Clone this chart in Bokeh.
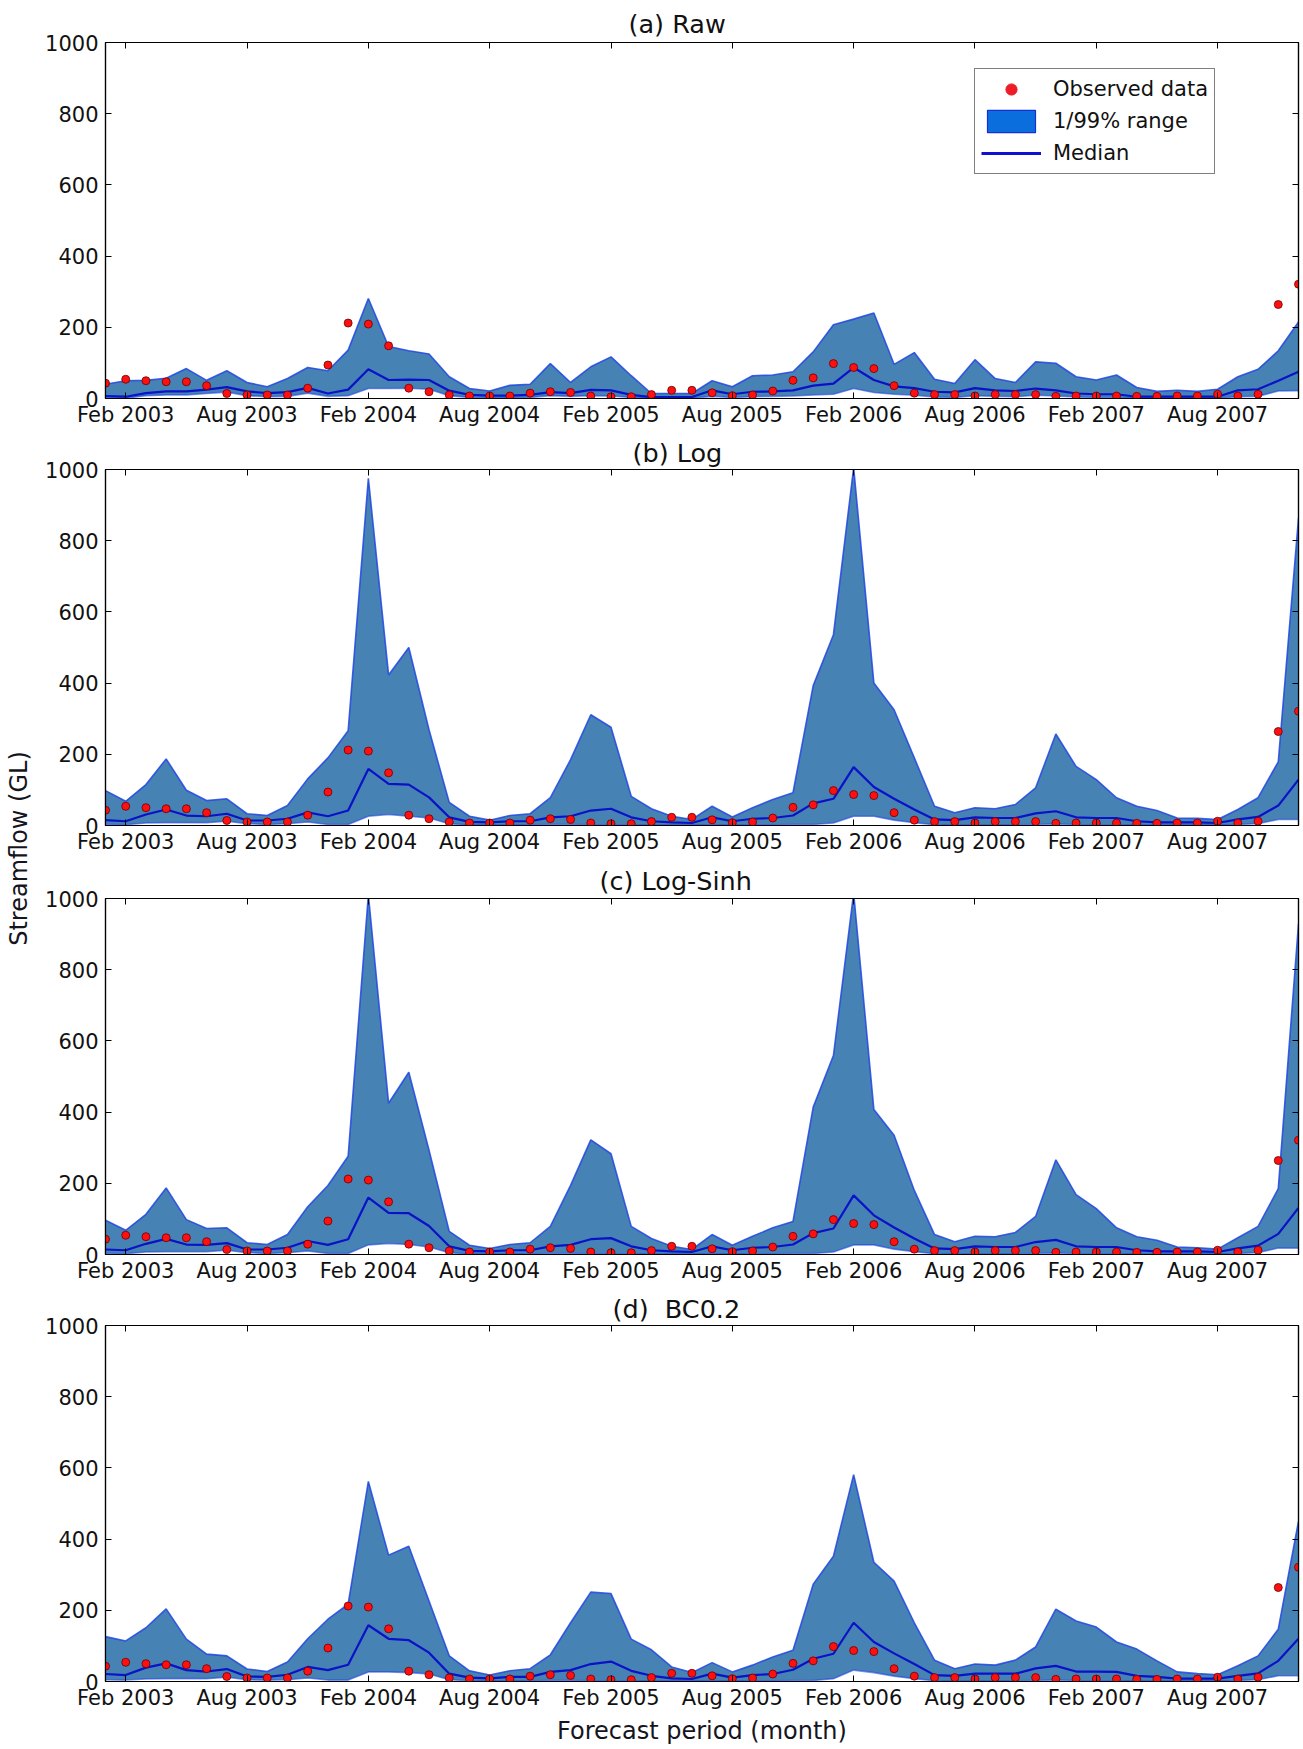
import numpy as np
from bokeh.plotting import figure
from bokeh.models import (Range1d, LinearAxis, FixedTicker, Legend, LegendItem,
                          ColumnDataSource, Label)
from bokeh.layouts import row, column
from bokeh.embed import file_html
from bokeh.resources import INLINE

# ---------------- data ----------------
# month index 0 = Jan 2003 ... 59 = Dec 2007
months = list(range(60))
tick_months = [1, 7, 13, 19, 25, 31, 37, 43, 49, 55]
tick_labels = ["Feb 2003", "Aug 2003", "Feb 2004", "Aug 2004", "Feb 2005",
               "Aug 2005", "Feb 2006", "Aug 2006", "Feb 2007", "Aug 2007"]
y_ticks = [0, 200, 400, 600, 800, 1000]

observed = [43, 54, 50, 47, 47, 36, 14, 10, 10, 10, 29, 94, 212, 209, 148, 29, 19, 10, 7, 7,
            7, 15, 19, 17, 7, 5, 5, 11, 23, 23, 16, 8, 10, 21, 51, 58, 98, 87, 84, 36,
            15, 11, 11, 7, 11, 11, 11, 6, 7, 7, 7, 6, 6, 7, 7, 12, 7, 12, 264, 321]

raw_upper = [40, 50, 51, 57, 84, 51, 78, 45, 33, 56, 87, 78, 136, 281, 146, 134, 125, 61, 28, 21,
             37, 40, 98, 45, 89, 117, 64, 14, 14, 14, 50, 33, 64, 66, 75, 131, 207, 223, 240, 96,
             129, 54, 42, 109, 56, 45, 103, 99, 61, 52, 66, 31, 20, 23, 20, 26, 61, 82, 134, 215]
raw_median = [7, 5, 15, 20, 20, 25, 32, 20, 15, 18, 30, 14, 25, 82, 52, 53, 52, 22, 10, 8,
              8, 10, 18, 15, 24, 23, 10, 4, 4, 4, 23, 12, 19, 20, 23, 36, 42, 87, 52, 34,
              29, 19, 17, 29, 23, 21, 28, 23, 14, 12, 12, 5, 5, 5, 5, 5, 23, 26, 50, 75]
raw_lower = [2, 1, 8, 10, 10, 14, 18, 8, 5, 6, 15, 6, 8, 28, 28, 29, 26, 8, 3, 2,
             2, 3, 8, 6, 8, 7, 3, 1, 1, 1, 6, 3, 5, 6, 7, 10, 12, 28, 17, 12,
             9, 4, 3, 8, 6, 5, 9, 7, 4, 3, 3, 1, 1, 1, 1, 1, 5, 6, 21, 22]

log_upper = [98, 68, 115, 187, 99, 70, 75, 33, 28, 56, 131, 190, 266, 975, 423, 500, 269, 65, 26, 15,
             28, 33, 78, 185, 311, 276, 82, 47, 26, 17, 54, 24, 50, 73, 92, 393, 536, 1005, 400, 325,
             190, 54, 36, 50, 47, 59, 106, 257, 166, 129, 78, 54, 42, 21, 20, 17, 45, 78, 179, 863]
log_median = [15, 12, 31, 45, 28, 26, 33, 14, 14, 19, 37, 26, 42, 159, 117, 115, 79, 23, 10, 9,
              12, 12, 23, 26, 42, 47, 23, 12, 9, 7, 23, 12, 19, 21, 28, 62, 75, 164, 108, 75,
              45, 17, 15, 23, 21, 21, 34, 40, 23, 21, 21, 12, 9, 9, 9, 7, 17, 24, 56, 129]
log_lower = [3, 2, 7, 8, 8, 8, 12, 5, 3, 5, 10, 3, 3, 26, 31, 26, 21, 5, 1, 1,
             1, 2, 3, 3, 2, 2, 2, 1, 1, 1, 2, 1, 2, 2, 3, 3, 7, 26, 26, 15,
             8, 2, 1, 1, 1, 2, 3, 4, 2, 2, 2, 1, 1, 1, 1, 1, 3, 5, 17, 17]

logsinh_upper = [96, 68, 113, 187, 98, 73, 75, 33, 28, 56, 134, 194, 276, 1010, 425, 512, 293, 65, 26, 17,
                 28, 33, 79, 194, 322, 283, 79, 45, 23, 14, 56, 26, 51, 75, 93, 414, 559, 1015, 407, 335,
                 180, 56, 36, 51, 50, 62, 107, 266, 168, 129, 75, 50, 40, 21, 19, 15, 47, 79, 185, 928]
logsinh_median = [14, 12, 30, 44, 28, 27, 32, 14, 14, 19, 38, 27, 43, 160, 117, 116, 80, 23, 10, 9,
                  12, 12, 23, 27, 43, 46, 23, 12, 9, 7, 23, 12, 19, 21, 28, 60, 73, 166, 110, 76,
                  45, 17, 15, 23, 21, 21, 35, 41, 23, 21, 21, 12, 9, 9, 9, 7, 17, 25, 58, 131]
logsinh_lower = [3, 2, 7, 8, 8, 8, 12, 5, 3, 5, 10, 3, 3, 27, 31, 28, 21, 5, 1, 1,
                 1, 2, 3, 3, 2, 2, 2, 1, 1, 1, 2, 1, 2, 2, 3, 3, 7, 27, 27, 15,
                 8, 2, 1, 1, 1, 2, 3, 4, 2, 2, 2, 1, 1, 1, 1, 1, 3, 5, 18, 18]

bc_upper = [126, 114, 151, 204, 119, 77, 72, 35, 28, 55, 120, 175, 217, 562, 355, 380, 226, 72, 30, 18,
            30, 36, 75, 165, 251, 247, 119, 89, 41, 25, 53, 27, 46, 69, 88, 273, 352, 581, 335, 282,
            165, 60, 36, 49, 46, 60, 97, 203, 170, 153, 111, 91, 58, 27, 22, 19, 44, 72, 147, 450]
bc_median = [21, 18, 39, 51, 32, 28, 35, 14, 13, 19, 41, 32, 47, 158, 120, 116, 81, 22, 11, 9,
             13, 13, 27, 32, 49, 56, 30, 16, 9, 7, 22, 11, 18, 21, 33, 64, 78, 165, 111, 79,
             49, 18, 16, 22, 22, 22, 37, 44, 28, 28, 27, 16, 13, 8, 8, 8, 16, 23, 58, 120]
bc_lower = [5, 4, 7, 8, 8, 8, 12, 5, 4, 5, 10, 4, 4, 27, 27, 25, 21, 5, 2, 1,
            1, 2, 3, 3, 2, 2, 2, 1, 1, 1, 2, 1, 2, 2, 3, 3, 8, 32, 25, 15,
            8, 2, 1, 1, 1, 2, 3, 4, 2, 2, 2, 1, 1, 1, 1, 1, 3, 5, 16, 16]

panel_titles = ["(a) Raw", "(b) Log", "(c) Log-Sinh", "(d)\u00a0 BC0.2"]
title_offsets = [523, 527, 494, 507]
title_standoffs = [7, 4, 5, 3]
legend_labels = ["Observed data", "1/99% range", "Median"]
y_label = "Streamflow (GL)"
x_label = "Forecast period (month)"

# ---------------- style / layout ----------------
FONT = "DejaVu Sans"
FILL = "#4682B4"
EDGE = "#2146E2"
MEDIAN = "#0A12C8"
TICK_FS = "21px"
TITLE_FS = "25.5px"
LABEL_FS = "24px"
FRAME_W = 1193
FRAME_H = 356
LEFT_B = 65
RIGHT_B = 5
FIG_W = LEFT_B + FRAME_W + RIGHT_B


def make_axis(ticks, labels=None, show=True, standoff=4):
    ax = LinearAxis(ticker=FixedTicker(ticks=ticks))
    if show:
        ax.major_label_overrides = {t: l for t, l in zip(ticks, labels)}
        ax.major_label_text_font = FONT
        ax.major_label_text_font_size = TICK_FS
        ax.major_label_text_color = "#111111"
        ax.major_label_standoff = standoff
    else:
        ax.major_label_overrides = {t: "" for t in ticks}
        ax.major_label_text_font_size = "1px"
        ax.major_label_standoff = 0
    ax.major_tick_in = 6
    ax.major_tick_out = 0
    ax.minor_tick_in = 0
    ax.minor_tick_out = 0
    ax.major_tick_line_color = "black"
    ax.axis_line_color = "black"
    ax.axis_line_width = 1.2
    return ax


def make_panel(i, lower, median, upper, top_b, bottom_b, legend=False, xlab=None):
    p = figure(width=FIG_W, height=top_b + FRAME_H + bottom_b,
               frame_width=FRAME_W, frame_height=FRAME_H,
               x_range=Range1d(0, 59), y_range=Range1d(0, 1000),
               toolbar_location=None, output_backend="svg",
               x_axis_location=None, y_axis_location=None,
               min_border_left=LEFT_B, min_border_right=RIGHT_B, min_border_top=top_b,
               min_border_bottom=bottom_b, title=panel_titles[i])
    p.grid.visible = False
    p.outline_line_color = "black"
    p.outline_line_width = 1.2
    p.background_fill_color = "white"
    p.border_fill_color = "white"

    p.title.align = "left"
    p.title.offset = title_offsets[i]
    p.title.text_font = FONT
    p.title.text_font_size = TITLE_FS
    p.title.text_font_style = "normal"
    p.title.text_color = "#111111"
    p.title.standoff = title_standoffs[i]

    xb = make_axis(tick_months, tick_labels, True, standoff=4)
    if xlab:
        xb.axis_label = xlab
        xb.axis_label_text_font = FONT
        xb.axis_label_text_font_size = LABEL_FS
        xb.axis_label_text_font_style = "normal"
        xb.axis_label_text_color = "#151520"
        xb.axis_label_standoff = 4
    p.add_layout(xb, "below")
    p.add_layout(make_axis(tick_months, show=False), "above")
    p.add_layout(make_axis(y_ticks, [str(v) for v in y_ticks], True, standoff=7), "left")
    p.add_layout(make_axis(y_ticks, show=False), "right")

    src = ColumnDataSource(dict(x=months, lo=lower, med=median, up=upper, obs=observed))
    p.varea(x="x", y1="lo", y2="up", source=src, fill_color=FILL, fill_alpha=1.0)
    p.line(x="x", y="up", source=src, line_color=EDGE, line_width=1.6, line_alpha=0.85)
    p.line(x="x", y="lo", source=src, line_color=EDGE, line_width=1.6, line_alpha=0.6)
    p.line(x="x", y="med", source=src, line_color=MEDIAN, line_width=2.2)
    p.scatter(x="x", y="obs", source=src, size=8, fill_color="#FF1010",
              line_color="#6A0000", line_width=0.8)

    if legend:
        dummy = ColumnDataSource(dict(l=[np.nan], r=[np.nan], b=[np.nan], t=[np.nan]))
        r_band = p.quad(left="l", right="r", bottom="b", top="t", source=dummy,
                        fill_color="#0A6FDC", line_color="#1530D8", line_width=1.2)
        dummy2 = ColumnDataSource(dict(x=[np.nan], y=[np.nan]))
        r_dot = p.scatter(x="x", y="y", source=dummy2, size=10, fill_color="#EE1C25",
                          line_color="#EE1C25")
        r_mleg = p.line(x="x", y="y", source=dummy2, line_color="#1010D0", line_width=3)
        leg = Legend(items=[LegendItem(label=legend_labels[0], renderers=[r_dot]),
                            LegendItem(label=legend_labels[1], renderers=[r_band]),
                            LegendItem(label=legend_labels[2], renderers=[r_mleg])],
                     location=(869, 224))
        leg.label_text_font = FONT
        leg.label_text_font_size = "21px"
        leg.label_text_color = "#111111"
        leg.border_line_color = "black"
        leg.border_line_width = 1.2
        leg.background_fill_color = "white"
        leg.background_fill_alpha = 1.0
        leg.padding = 6
        leg.spacing = 4
        leg.margin = 0
        leg.glyph_width = 60
        leg.glyph_height = 28
        leg.label_height = 28
        leg.label_standoff = 12
        p.add_layout(leg, "center")
    return p


# frame tops at y = 42, 469, 898, 1325 in the 1749-px page
pa = make_panel(0, raw_lower, raw_median, raw_upper, 42, 32, legend=True)     # 0 .. 430
pb = make_panel(1, log_lower, log_median, log_upper, 39, 32)                  # 430 .. 857
pc = make_panel(2, logsinh_lower, logsinh_median, logsinh_upper, 41, 32)      # 857 .. 1286
pd_ = make_panel(3, bc_lower, bc_median, bc_upper, 39, 68, xlab=x_label)      # 1286 .. 1749

# y-axis label strip at the left
lab = figure(width=40, height=1749, x_range=Range1d(0, 40), y_range=Range1d(0, 1749),
             toolbar_location=None, output_backend="svg",
             x_axis_location=None, y_axis_location=None, min_border=0)
lab.grid.visible = False
lab.outline_line_color = None
lab.add_layout(Label(x=18, y=1749 - 848, x_units="data", y_units="data", text=y_label,
                     angle=np.pi / 2, text_align="center", text_baseline="middle",
                     text_font=FONT, text_font_size=LABEL_FS, text_color="#151520"))

layout = row(lab, column(pa, pb, pc, pd_))

open("out.html", "w").write(file_html(layout, INLINE))
